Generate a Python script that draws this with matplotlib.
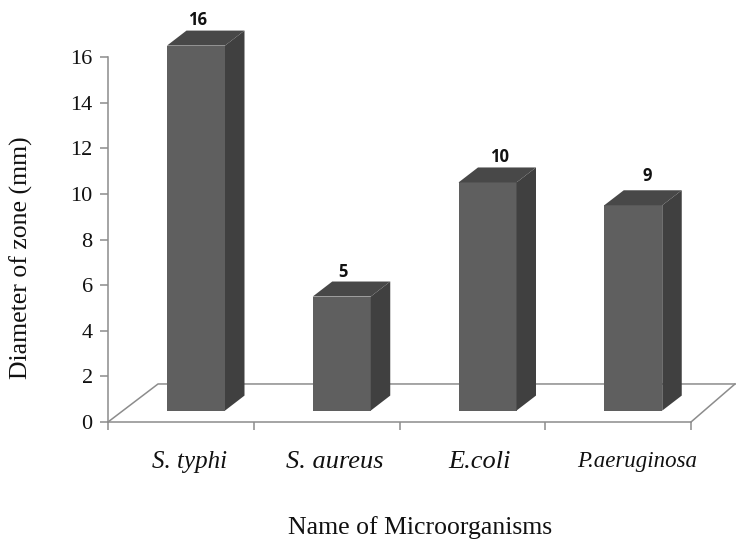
#!/usr/bin/python

import matplotlib
matplotlib.use("Agg")
import matplotlib.pyplot as plt

organisms = ["S. typhi", "S. aureus", "E.coli", "P.aeruginosa"]
zone_mm = [16, 5, 10, 9]
yticks = [0, 2, 4, 6, 8, 10, 12, 14, 16]

W, H = 736.0, 544.0
GRAY = "#8c8c8c"
FRONT = "#5f5f5f"
SIDE = "#404040"
TOP = "#484848"

# per label tweaks, the original text boxes are not evenly set
name_sizes = [18, 19, 19, 16.5]
name_x = [190, 334.5, 479.5, 637.5]
label_shift = [2, 1, 12, 14]
label_rise = [0, -1, 0, 3]

fig = plt.figure(figsize=(7.36, 5.44), dpi=100)
ax = fig.add_axes([108 / W, 1 - 422 / H, 583 / W, 365 / H])
ax.set_xlim(0, 4)
ax.set_ylim(0, 16)

# depth of the fake 3d box, in data units
dx = 19.5 / 145.75
dy = 15 / 22.8
base = 0.5
floor = 38 / 22.8
width = 58 / 145.75
floor_dx = 50 / 145.75

# floor of the chart
ax.plot([0, floor_dx, 4 + floor_dx * 0.88], [0, floor, floor], color=GRAY, lw=1.1,
        clip_on=False, zorder=1)
ax.plot([4, 4 + floor_dx * 0.88], [0, floor], color=GRAY, lw=1.1, clip_on=False, zorder=1)

for i in range(len(zone_mm)):
    x0 = i + 59 / 145.75
    x1 = x0 + width
    top = base + zone_mm[i]
    ax.bar(x0, zone_mm[i], width=width, bottom=base, align="edge", color=FRONT, zorder=3,
           clip_on=False)
    ax.fill([x1, x1 + dx, x1 + dx, x1], [base, base + dy, top + dy, top], color=SIDE, lw=0, zorder=3,
            clip_on=False)
    ax.fill([x0, x0 + dx, x1 + dx, x1], [top, top + dy, top + dy, top], color=TOP, lw=0, zorder=3,
            clip_on=False)
    ax.text(x0 + width / 2 + label_shift[i] / 145.75, top + dy + 0.08 + label_rise[i] / 22.8,
            str(zone_mm[i]), ha="center", va="bottom",
            family="Open Sans", weight="bold", fontsize=12, color="#111111", clip_on=False)

for side in ["top", "right"]:
    ax.spines[side].set_visible(False)
for side in ["left", "bottom"]:
    ax.spines[side].set_color(GRAY)
    ax.spines[side].set_linewidth(1.1)

ax.set_yticks(yticks)
ax.set_yticklabels([str(v) for v in yticks], family="Liberation Serif", fontsize=16)
ax.set_xticks([0, 1, 2, 3, 4])
ax.set_xticklabels([])
ax.tick_params(axis="y", length=6, width=1.1, color=GRAY, pad=5, labelcolor="#111111")
ax.tick_params(axis="x", length=6, width=1.1, color=GRAY)

for i in range(len(organisms)):
    fig.text(name_x[i] / W, 1 - 462 / H, organisms[i], ha="center", va="center",
             family="Liberation Serif", style="italic", fontsize=name_sizes[i], color="#111111")

fig.text(420 / W, 1 - 528 / H, "Name of Microorganisms", ha="center", va="center",
         family="Liberation Serif", fontsize=18.5, color="#111111")
fig.text(21 / W, 1 - 258 / H, "Diameter of zone (mm)", ha="center", va="center", rotation=90,
         family="Liberation Serif", fontsize=18.5, color="#111111")

fig.savefig("out.png", dpi=100)
